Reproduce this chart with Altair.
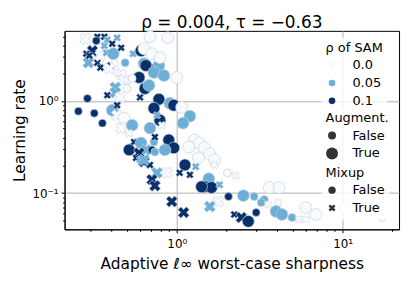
import altair as alt
import pandas as pd

sharpness = [0.281, 0.332, 0.327, 0.366, 0.381, 0.408, 0.437, 0.462, 0.310, 0.285,
             0.293, 0.332, 0.346, 0.346, 0.376, 0.414, 0.397, 0.420, 0.545, 0.488,
             0.609, 0.634, 0.708, 0.634, 0.652, 0.759, 0.780, 0.791, 0.728, 0.836,
             0.689, 0.883, 1.00, 0.592, 0.643, 0.680, 0.462, 0.482, 0.426, 0.502,
             0.381, 0.426, 0.456, 0.600, 0.289, 0.255, 0.318, 0.356, 0.780, 0.728,
             0.908, 0.959, 1.07, 1.20, 1.09, 0.791, 0.759, 0.408, 0.437, 0.482,
             0.462, 0.538, 0.516, 0.516, 0.553, 0.609, 0.652, 0.592, 0.634, 0.708,
             0.728, 0.568, 0.813, 0.689, 1.28, 1.37, 1.47, 1.58, 1.69, 1.35,
             1.18, 0.895, 0.959, 0.848, 0.738, 0.738, 1.69, 1.12, 1.30, 1.20,
             1.04, 0.871, 0.759, 0.689, 0.708, 0.738, 1.56, 1.47, 1.62, 1.41,
             1.81, 2.02, 2.26, 1.78, 1.58, 2.05, 2.52, 2.93, 3.37, 3.23,
             3.61, 4.14, 4.08, 3.56, 0.933, 1.10, 2.22, 2.45, 2.70, 3.01,
             3.97, 4.31, 4.95, 5.45, 6.00, 6.00, 6.89, 10.0, 17.4, 0.600,
             0.634, 0.297, 0.366, 0.392, 0.437, 0.502, 0.538, 0.437]
learning_rate = [4.70, 4.94, 4.47, 4.94, 4.58, 4.15, 4.82, 3.76, 3.49, 3.24,
                 2.59, 2.59, 2.29, 3.09, 3.32, 3.24, 2.41, 2.53, 3.24, 2.59,
                 3.49, 3.67, 3.24, 2.53, 2.41, 2.24, 2.41, 2.94, 2.03, 1.88,
                 4.94, 4.82, 1.79, 1.79, 1.36, 1.47, 1.93, 1.66, 1.40, 1.36,
                 1.15, 1.23, 1.09, 1.09, 1.06, 0.771, 0.734, 0.573, 1.04, 0.830,
                 0.940, 0.895, 0.851, 0.681, 0.573, 0.617, 0.698, 0.791, 0.698, 0.649,
                 0.506, 0.545, 0.447, 0.294, 0.358, 0.349, 0.294, 0.272, 0.218, 0.294,
                 0.358, 0.241, 0.545, 0.506, 0.376, 0.349, 0.309, 0.266, 0.229, 0.241,
                 0.316, 0.376, 0.309, 0.294, 0.279, 0.405, 0.202, 0.202, 0.193, 0.158,
                 0.166, 0.166, 0.166, 0.202, 0.140, 0.120, 0.143, 0.117, 0.115, 0.117,
                 0.123, 0.166, 0.154, 0.081, 0.0716, 0.0917, 0.094, 0.0917, 0.0851, 0.079,
                 0.115, 0.115, 0.079, 0.0752, 0.081, 0.0617, 0.0587, 0.0545, 0.0494, 0.0617,
                 0.0633, 0.0587, 0.0545, 0.0519, 0.0519, 0.0698, 0.0587, 0.0698, 0.0545, 0.229,
                 0.229, 3.09, 3.95, 2.24, 2.03, 1.66, 1.75, 0.895]
rho = ["0.0", "0.1", "0.1", "0.1", "0.05", "0.1", "0.05", "0.1", "0.1", "0.1",
       "0.05", "0.1", "0.1", "0.0", "0.05", "0.05", "0.1", "0.0", "0.05", "0.05",
       "0.1", "0.0", "0.0", "0.05", "0.1", "0.1", "0.05", "0.0", "0.05", "0.05",
       "0.0", "0.0", "0.0", "0.1", "0.1", "0.05", "0.0", "0.0", "0.05", "0.0",
       "0.1", "0.05", "0.0", "0.1", "0.1", "0.1", "0.1", "0.1", "0.1", "0.1",
       "0.05", "0.1", "0.0", "0.05", "0.05", "0.1", "0.05", "0.05", "0.0", "0.0",
       "0.0", "0.05", "0.0", "0.1", "0.1", "0.05", "0.05", "0.1", "0.1", "0.1",
       "0.05", "0.1", "0.0", "0.05", "0.0", "0.0", "0.0", "0.0", "0.0", "0.0",
       "0.0", "0.1", "0.1", "0.05", "0.05", "0.1", "0.0", "0.1", "0.05", "0.1",
       "0.1", "0.0", "0.05", "0.1", "0.1", "0.1", "0.05", "0.1", "0.1", "0.1",
       "0.05", "0.0", "0.0", "0.0", "0.05", "0.1", "0.05", "0.05", "0.05", "0.05",
       "0.0", "0.0", "0.0", "0.0", "0.1", "0.1", "0.1", "0.1", "0.1", "0.1",
       "0.05", "0.05", "0.05", "0.0", "0.0", "0.0", "0.0", "0.0", "0.0", "0.05",
       "0.05", "0.1", "0.05", "0.0", "0.0", "0.0", "0.0", "0.1"]
augment = ["True", "False", "False", "False", "False", "False", "False", "False", "True", "False",
           "True", "False", "False", "True", "False", "True", "False", "False", "False", "False",
           "True", "True", "True", "True", "True", "True", "True", "True", "True", "True",
           "True", "True", "True", "True", "True", "True", "True", "True", "True", "False",
           "False", "True", "True", "False", "False", "False", "False", "False", "True", "True",
           "True", "True", "True", "True", "True", "True", "False", "True", "True", "True",
           "True", "True", "False", "True", "False", "True", "True", "True", "True", "False",
           "False", "False", "False", "True", "True", "True", "True", "True", "True", "True",
           "True", "True", "True", "True", "False", "False", "False", "True", "False", "False",
           "False", "True", "True", "False", "True", "True", "True", "True", "True", "True",
           "False", "False", "False", "True", "True", "False", "True", "False", "False", "False",
           "True", "True", "False", "False", "True", "True", "False", "True", "True", "False",
           "True", "True", "False", "False", "False", "True", "True", "False", "False", "False",
           "True", "False", "False", "True", "False", "False", "False", "False"]
mixup = ["True", "True", "False", "True", "True", "True", "True", "True", "True", "True",
         "True", "True", "True", "True", "True", "False", "True", "False", "True", "False",
         "False", "False", "False", "False", "False", "False", "False", "False", "False", "False",
         "False", "False", "False", "False", "False", "False", "True", "True", "True", "False",
         "True", "True", "True", "True", "False", "False", "False", "False", "False", "False",
         "False", "False", "False", "False", "False", "False", "True", "False", "True", "False",
         "True", "False", "True", "False", "True", "False", "True", "True", "True", "False",
         "False", "True", "True", "False", "False", "False", "False", "False", "False", "False",
         "False", "False", "False", "False", "False", "True", "True", "False", "True", "True",
         "True", "True", "True", "True", "True", "True", "False", "False", "False", "False",
         "True", "False", "True", "True", "True", "False", "False", "False", "False", "False",
         "False", "False", "True", "True", "True", "True", "True", "True", "False", "False",
         "False", "False", "False", "True", "True", "False", "False", "False", "False", "True",
         "True", "True", "True", "True", "True", "True", "False", "True"]

df = pd.DataFrame({"sharpness": sharpness, "lr": learning_rate, "rho": rho,
                   "augment": augment, "mixup": mixup})

x_path = ("M-0.955,0.46L-0.46,0.955L0,0.495L0.46,0.955L0.955,0.46L0.495,0"
          "L0.955,-0.46L0.46,-0.955L0,-0.495L-0.46,-0.955L-0.955,-0.46L-0.495,0Z")

x_ticks = [0.3, 0.4, 0.5, 0.6, 0.7, 0.8, 0.9, 1, 2, 3, 4, 5, 6, 7, 8, 9, 10, 20]
y_ticks = [0.05, 0.06, 0.07, 0.08, 0.09, 0.1, 0.2, 0.3, 0.4, 0.5, 0.6, 0.7, 0.8, 0.9, 1, 2, 3, 4, 5]

font = "DejaVu Sans"
leg_common = dict(orient="none", legendX=259, symbolStrokeWidth=0, labelOffset=14,
                  titlePadding=4)

chart = alt.Chart(df).mark_point(filled=True, opacity=1, stroke="#c9d0da", strokeWidth=0.7).encode(
    x=alt.X("sharpness:Q",
            scale=alt.Scale(type="log", domain=[0.2105, 21.9], nice=False),
            axis=alt.Axis(values=x_ticks,
                          labelExpr="datum.value == 1 ? '10⁰' : datum.value == 10 ? '10¹' : ''",
                          tickSize={"condition": {"test": "datum.value == 1 || datum.value == 10", "value": 3.5}, "value": 2},
                          gridOpacity={"condition": {"test": "datum.value == 1 || datum.value == 10", "value": 1}, "value": 0},
                          labelOverlap=False, labelFlush=False, labelPadding=6,
                          title="Adaptive ℓ∞ worst-case sharpness", titlePadding=7)),
    y=alt.Y("lr:Q",
            scale=alt.Scale(type="log", domain=[0.0405, 5.73], nice=False),
            axis=alt.Axis(values=y_ticks,
                          labelExpr="datum.value == 1 ? '10⁰' : datum.value == 0.1 ? '10⁻¹' : ''",
                          tickSize={"condition": {"test": "datum.value == 1 || datum.value == 0.1", "value": 3.5}, "value": 2},
                          gridOpacity={"condition": {"test": "datum.value == 1 || datum.value == 0.1", "value": 1}, "value": 0},
                          labelOverlap=False, labelFlush=False, labelPadding=3,
                          title="Learning rate", titlePadding=4)),
    color=alt.Color("rho:N", scale=alt.Scale(domain=["0.0", "0.05", "0.1"],
                                            range=["#f7fbff", "#6baed6", "#08306b"]),
                    legend=alt.Legend(title="ρ of SAM", symbolType="circle", symbolSize=45,
                                      legendY=7, **leg_common)),
    size=alt.Size("augment:N", scale=alt.Scale(range=[64, 144]),
                  legend=alt.Legend(title="Augment.", symbolType="circle",
                                    symbolFillColor="#333333", legendY=78, **leg_common)),
    shape=alt.Shape("mixup:N", scale=alt.Scale(range=["circle", x_path]),
                    legend=alt.Legend(title="Mixup", symbolFillColor="#333333", symbolSize=55,
                                      legendY=133, **leg_common)),
).properties(
    width=337, height=200,
    title=alt.TitleParams("ρ = 0.004, τ = −0.63", fontSize=17, font=font,
                          fontWeight="normal", offset=-3, color="black"),
).configure_view(
    stroke="black", strokeWidth=1
).configure_axis(
    labelFont=font, titleFont=font, labelFontSize=12, titleFontSize=15.5,
    titleFontWeight="normal", labelColor="black", titleColor="black",
    domainColor="black", tickColor="black", gridColor="#b0b0b0", gridWidth=1,
).configure_legend(
    labelFont=font, titleFont=font, labelFontSize=13, titleFontSize=13,
    titleFontWeight="normal", labelColor="black", titleColor="black",
    fillColor="rgba(255,255,255,0.8)", padding=4, rowPadding=4,
)

chart.save("out.html", embed_options={"renderer": "svg", "actions": False})
